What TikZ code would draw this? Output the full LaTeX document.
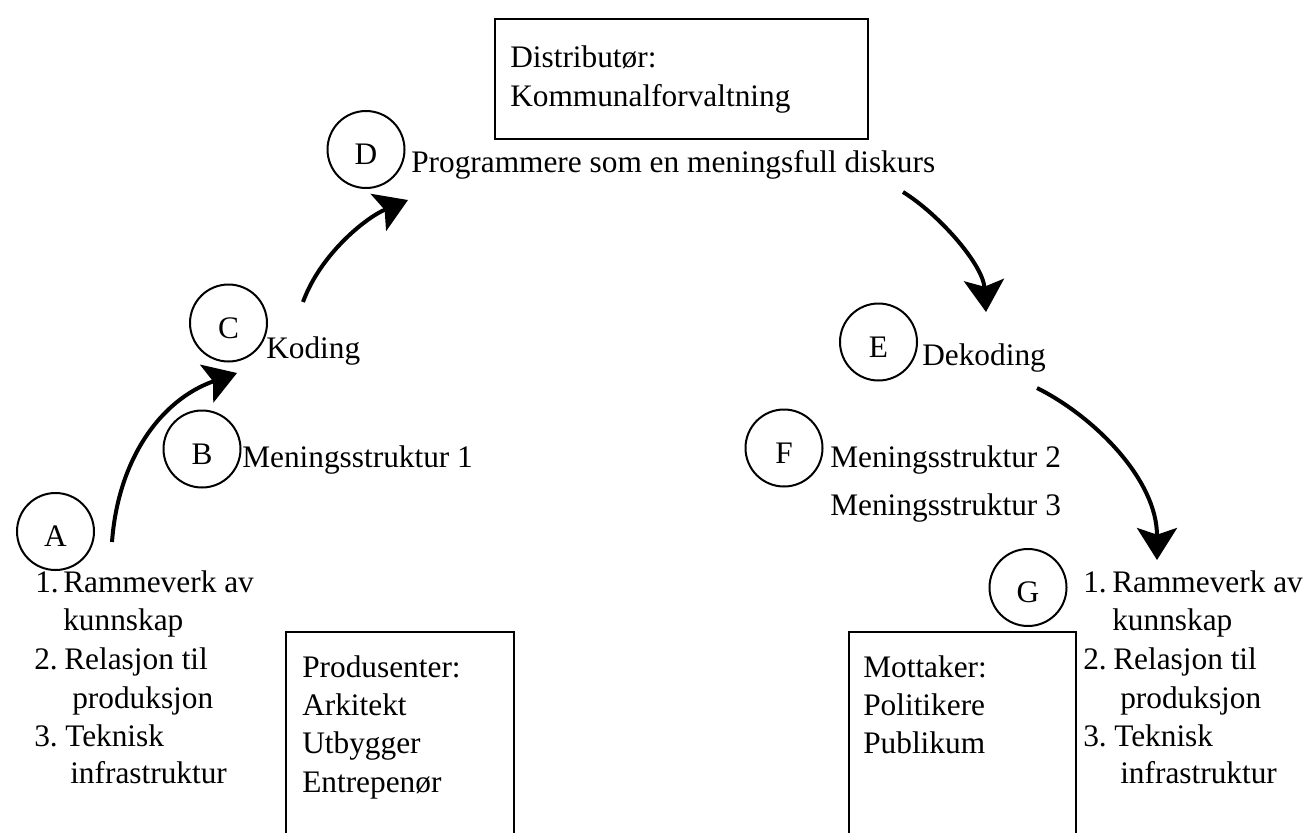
\documentclass[tikz,border=0pt]{standalone}
\usepackage{fontspec}
\setmainfont{Liberation Serif}
\usetikzlibrary{arrows.meta}
\begin{document}
\begin{tikzpicture}[x=0.75pt,y=-0.75pt,
  lbl/.style={anchor=base west,inner sep=0pt,font=\fontsize{23.5}{28}\selectfont},
  letter/.style={circle,draw,line width=1.5pt,minimum size=57.75pt,inner sep=0pt,
    text height=22.5pt,text depth=0pt,font=\fontsize{23.5}{28}\selectfont},
  frame/.style={draw,line width=1.8pt,anchor=north west,inner sep=0pt},
  flow/.style={line width=3pt,-{Stealth[length=24pt,width=30pt,inset=5pt]}}]
\useasboundingbox (0,0) rectangle (1306,832);
\clip (0,0) rectangle (1306,832);

% boxes
\node[frame,minimum width=279.75pt,minimum height=90pt] (dist) at (494,18) {};
\node[frame,minimum width=171pt,minimum height=200pt] (prod) at (285,631) {};
\node[frame,minimum width=170.25pt,minimum height=200pt] (mott) at (848,631) {};

\node[lbl] (dist1) at (510,67) {Distributør:};
\node[lbl] (dist2) at (510,106) {Kommunalforvaltning};

\node[lbl] (prod1) at (302,677) {Produsenter:};
\node[lbl] (prod2) at (302,715) {Arkitekt};
\node[lbl] (prod3) at (302,753) {Utbygger};
\node[lbl] (prod4) at (302,792) {Entrepenør};

\node[lbl] (mott1) at (863,677) {Mottaker:};
\node[lbl] (mott2) at (863,715) {Politikere};
\node[lbl] (mott3) at (863,753) {Publikum};

% circles
\node[letter] (A) at (55.5,531.5) {A};
\node[letter] (B) at (202,449) {B};
\node[letter] (C) at (228.5,323) {C};
\node[letter] (D) at (366,149.5) {D};
\node[letter] (E) at (878.5,342) {E};
\node[letter] (F) at (784,448) {F};
\node[letter] (G) at (1028,587.5) {G};

% labels
\node[lbl] (ms1) at (242,467) {Meningsstruktur 1};
\node[lbl] (kod) at (266,358) {Koding};
\node[lbl] (prog) at (411,172) {Programmere som en meningsfull diskurs};
\node[lbl] (dek) at (922,365) {Dekoding};
\node[lbl] (ms2) at (830,467) {Meningsstruktur 2};
\node[lbl] (ms3) at (830,515) {Meningsstruktur 3};

% left list
\node[lbl] (ln1) at (35,592) {1.};
\node[lbl] (l1) at (63,592) {Rammeverk av};
\node[lbl] (l2) at (63,630) {kunnskap};
\node[lbl] (ln2) at (34,669) {2.};
\node[lbl] (l3) at (64,669) {Relasjon til};
\node[lbl] (l4) at (72,708) {produksjon};
\node[lbl] (ln3) at (34,746) {3.};
\node[lbl] (l5) at (65,746) {Teknisk};
\node[lbl] (l6) at (70,783) {infrastruktur};

% right list
\node[lbl] (rn1) at (1083,592) {1.};
\node[lbl] (r1) at (1112,592) {Rammeverk av};
\node[lbl] (r2) at (1112,630) {kunnskap};
\node[lbl] (rn2) at (1083,669) {2.};
\node[lbl] (r3) at (1113,669) {Relasjon til};
\node[lbl] (r4) at (1120,708) {produksjon};
\node[lbl] (rn3) at (1083,746) {3.};
\node[lbl] (r5) at (1114,746) {Teknisk};
\node[lbl] (r6) at (1120,783) {infrastruktur};

% arrows
\coordinate (acS) at (112,542);
\coordinate (acE) at (237,373);
\coordinate (cdS) at (303,302);
\coordinate (cdE) at (408,200);
\coordinate (deS) at (903,192);
\coordinate (deE) at (986,312);
\coordinate (egS) at (1037,388);
\coordinate (egE) at (1157,560);

\draw[flow] (acS) .. controls (118,460) and (160,400) .. (acE);
\draw[flow] (cdS) .. controls (320,255) and (365,218) .. (cdE);
\draw[flow] (deS) .. controls (940,215) and (983,265) .. (deE);
\draw[flow] (egS) .. controls (1095,417) and (1157,480) .. (egE);
\end{tikzpicture}
\end{document}
